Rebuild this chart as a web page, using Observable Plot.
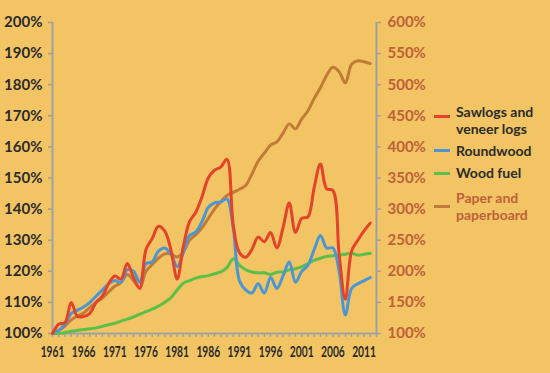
<!DOCTYPE html>
<html><head><meta charset="utf-8">
<script src="https://cdn.jsdelivr.net/npm/d3@7"></script>
<script src="https://cdn.jsdelivr.net/npm/@observablehq/plot@0.6"></script>
<style>
html,body{margin:0;padding:0;background:#F2C463;}
#wrap{position:relative;width:550px;height:373px;overflow:hidden;background:#F2C463;}
.leg{position:absolute;font-family:Lato, sans-serif;font-size:14px;font-weight:bold;line-height:17px;color:#2b2b2b;white-space:nowrap;}
.sw{position:absolute;width:16px;height:3px;}
</style></head><body><div id="wrap"></div>
<script>
const years = [1961,1962,1963,1964,1965,1966,1967,1968,1969,1970,1971,1972,1973,1974,1975,1976,1977,1978,1979,1980,1981,1982,1983,1984,1985,1986,1987,1988,1989,1990,1991,1992,1993,1994,1995,1996,1997,1998,1999,2000,2001,2002,2003,2004,2005,2006,2007,2008,2009,2010,2011,2012];
const sawlogs = [100,103,103.5,110,105.5,105.5,106.5,110,112,116,118.5,117.5,122.5,118,114.5,127,130.5,134.5,133,127,117.5,128,136,139,144,150,152.5,153.5,156,135,126,124.5,127,131,129.5,132.5,127.5,134,142,132.5,137,137.5,147,154.5,146.5,146,125.5,111,126.5,130,133,135.5];
const roundwood = [100,101,103,106.5,107.5,108.5,110,112,114,116,117,116.5,120.5,120,116.5,122.5,123,126.5,127.5,125.5,121.5,126,131.5,132.6,136,140.5,142,142.3,143.3,134,117,114,113,116,113,118,114.5,118.5,123,116.5,120,122,127,131.5,127.5,127.5,120,106,114.5,116,117,118];
const woodFuel = [100,100,100.3,100.7,101,101.3,101.5,101.8,102.3,102.8,103.3,104,104.6,105.3,106.2,107,107.8,108.8,110,111.5,114,116.2,117,117.8,118.3,118.6,119.2,119.8,121.2,124,122,120.5,119.8,119.5,119.5,119,119.7,119.8,120.5,120.8,121.5,122.5,123.5,124.2,124.8,125,125.2,125.5,125.8,125.2,125.5,125.8];
// Paper and paperboard, read on the right-hand axis
const paper = [100,105,112,122,128,133,142,150,157,167,176,182,195,185,174,200,211,221,228,228,223,231,250,259,270,285,300,312,322,327,332,338,356,377,390,403,408,422,437,429,445,458,478,495,515,528,521,503,533,538.5,537,534];

const leftTicks = [100,110,120,130,140,150,160,170,180,190,200];
const rightTicks = [100,150,200,250,300,350,400,450,500,550,600];
const xLabelYears = [1961,1966,1971,1976,1981,1986,1991,1996,2001,2006,2011];
const seriesNames = ["Sawlogs and veneer logs","Roundwood","Wood fuel","Paper and paperboard"];
const seriesColors = ["#E4432B","#4B97D3","#5CBF4A","#C27A38"];

const xDomain = [1961, 2013];
const yDomain = [100, 200];
const rDomain = [100, 600];
const toLeft = v => yDomain[0] + (v - rDomain[0]) * (yDomain[1]-yDomain[0]) / (rDomain[1]-rDomain[0]);

const seriesData = [sawlogs, roundwood, woodFuel, paper.map(toLeft)];
const rows = seriesData.map((vals, s) => years.map((yr, i) => ({year: yr, value: vals[i], series: seriesNames[s]})));

const axisGrey = "#9EA2A4";
const darkText = "#2b2b2b";
const rustText = "#C0603A";

const chart = Plot.plot({
  width: 550, height: 373,
  marginLeft: 52, marginRight: 174, marginTop: 22, marginBottom: 40,
  style: {background: "transparent", overflow: "visible"},
  x: {domain: xDomain},
  y: {domain: yDomain},
  color: {domain: seriesNames, range: seriesColors},
  marks: [
    Plot.ruleX([xDomain[0]], {y1: yDomain[0], y2: yDomain[1], stroke: axisGrey, strokeWidth: 2}),
    Plot.ruleX([xDomain[1]], {y1: yDomain[0], y2: yDomain[1], stroke: axisGrey, strokeWidth: 2}),
    Plot.ruleY([yDomain[0]], {x1: xDomain[0], x2: xDomain[1], stroke: axisGrey, strokeWidth: 2}),
    Plot.axisY(leftTicks, {anchor: "left", tickSize: 4, tickPadding: 6, stroke: axisGrey, strokeWidth: 1.5,
      tickFormat: d => d + "%", fill: darkText, fontSize: 15, fontFamily: "Lato, sans-serif", fontWeight: "bold", label: null}),
    Plot.axisY(leftTicks, {anchor: "right", tickSize: 4, tickPadding: 7, stroke: axisGrey, strokeWidth: 1.5,
      tickFormat: d => rightTicks[leftTicks.indexOf(d)] + "%", fill: rustText, fontSize: 15, fontFamily: "Lato, sans-serif", fontWeight: "bold", label: null}),
    Plot.axisX(years.concat([2013]), {anchor: "bottom", tickSize: 4, tickPadding: 8, stroke: axisGrey, strokeWidth: 1.5,
      tickFormat: d => xLabelYears.includes(d) ? String(d) : "", fill: darkText, fontSize: 16,
      fontFamily: "Lato, sans-serif", fontWeight: "bold", label: null}),
    Plot.line(rows[3], {x: "year", y: "value", stroke: "series", curve: "catmull-rom", strokeWidth: 3}),
    Plot.line(rows[2], {x: "year", y: "value", stroke: "series", curve: "catmull-rom", strokeWidth: 3}),
    Plot.line(rows[1], {x: "year", y: "value", stroke: "series", curve: "catmull-rom", strokeWidth: 3}),
    Plot.line(rows[0], {x: "year", y: "value", stroke: "series", curve: "catmull-rom", strokeWidth: 3})
  ]
});
// condense the year labels horizontally, like the narrow face of the original
d3.select(chart).selectAll("g[aria-label='x-axis tick label'] text").each(function() {
  const t = this.getAttribute("transform") || "";
  this.setAttribute("transform", t + " scale(0.64,1)");
});
const wrap = document.getElementById("wrap");
wrap.appendChild(chart);

// legend
const legendItems = [
  {lines: ["Sawlogs and", "veneer logs"], color: seriesColors[0], text: darkText, top: 103, sw: 116},
  {lines: ["Roundwood"], color: seriesColors[1], text: darkText, top: 142, sw: 150},
  {lines: ["Wood fuel"], color: seriesColors[2], text: darkText, top: 164, sw: 173},
  {lines: ["Paper and", "paperboard"], color: seriesColors[3], text: rustText, top: 189, sw: 206}
];
legendItems.forEach(it => {
  const s = document.createElement("div");
  s.className = "sw";
  s.style.left = "434px"; s.style.top = (it.sw - 1.5) + "px"; s.style.background = it.color;
  wrap.appendChild(s);
  const t = document.createElement("div");
  t.className = "leg";
  t.style.left = "456px"; t.style.top = it.top + "px"; t.style.color = it.text;
  t.innerHTML = it.lines.join("<br>");
  wrap.appendChild(t);
});
</script>
</body></html>
